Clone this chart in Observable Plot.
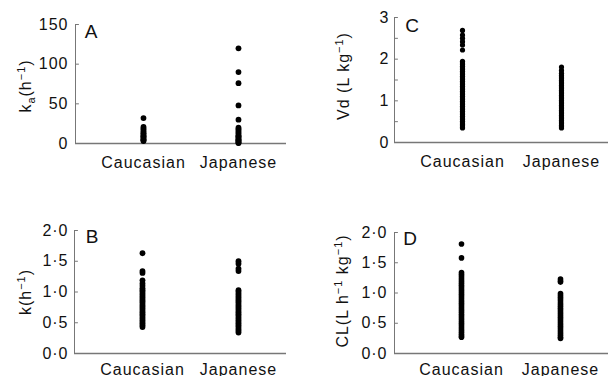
<!DOCTYPE html>
<html><head><meta charset="utf-8">
<script src="https://cdn.jsdelivr.net/npm/d3@7"></script>
<script src="https://cdn.jsdelivr.net/npm/@observablehq/plot@0.6"></script>
<style>
body{margin:0;background:#fff;}
#wrap{position:relative;width:608px;height:376px;overflow:hidden;background:#fff;}
.panel{position:absolute;}
</style></head><body><div id="wrap"></div>
<script>
const groups = ["Caucasian", "Japanese"];

// Panel A: ka (h^-1)
const kaCaucasian = [32, 21, 19, 17, 15, 13, 12, 10, 9, 8, 6, 5, 4, 3];
const kaJapanese = [120, 90, 76, 48, 30, 20, 18, 16, 14, 12, 10, 9, 8, 6, 5, 4, 3, 2, 1, 0.5];
const kaTicks = [0, 50, 100, 150];
const kaTickLabels = [0, 50, 100, 150];

// Panel C: Vd (L kg^-1)
const vdCaucasian = [2.69, 2.58, 2.50, 2.42, 2.34, 2.22, 1.95, 1.91, 1.87, 1.83, 1.79, 1.75, 1.71, 1.67, 1.63, 1.59, 1.55, 1.51, 1.47, 1.43, 1.39, 1.35, 1.31, 1.27, 1.23, 1.19, 1.15, 1.11, 1.07, 1.03, 0.99, 0.95, 0.91, 0.87, 0.83, 0.79, 0.75, 0.71, 0.67, 0.63, 0.59, 0.55, 0.51, 0.47, 0.43, 0.40, 0.37, 0.35];
const vdJapanese = [1.81, 1.73, 1.66, 1.61, 1.57, 1.53, 1.49, 1.45, 1.41, 1.37, 1.33, 1.29, 1.25, 1.21, 1.17, 1.13, 1.09, 1.05, 1.01, 0.97, 0.93, 0.89, 0.85, 0.81, 0.77, 0.73, 0.69, 0.65, 0.61, 0.57, 0.53, 0.49, 0.45, 0.41, 0.38, 0.35];
const vdTicks = [0, 0.5, 1, 1.5, 2, 2.5, 3];
const vdTickLabels = [0, 1, 2, 3];

// Panel B: k (h^-1)
const kCaucasian = [1.63, 1.34, 1.31, 1.19, 1.14, 1.10, 1.06, 1.03, 1.00, 0.97, 0.94, 0.91, 0.88, 0.85, 0.82, 0.79, 0.76, 0.73, 0.70, 0.67, 0.64, 0.61, 0.58, 0.55, 0.52, 0.49, 0.46, 0.43];
const kJapanese = [1.50, 1.46, 1.38, 1.34, 1.03, 1.00, 0.97, 0.94, 0.91, 0.88, 0.85, 0.82, 0.79, 0.76, 0.73, 0.70, 0.67, 0.64, 0.61, 0.58, 0.55, 0.52, 0.49, 0.46, 0.43, 0.40, 0.37, 0.34];
const kTicks = [0, 0.5, 1, 1.5, 2];
const kTickLabels = [0, 0.5, 1, 1.5, 2];

// Panel D: CL (L h^-1 kg^-1)
const clCaucasian = [1.81, 1.58, 1.34, 1.31, 1.28, 1.25, 1.22, 1.19, 1.16, 1.13, 1.10, 1.07, 1.04, 1.01, 0.98, 0.95, 0.92, 0.89, 0.86, 0.83, 0.80, 0.77, 0.74, 0.71, 0.68, 0.65, 0.62, 0.59, 0.56, 0.53, 0.50, 0.47, 0.44, 0.41, 0.38, 0.35, 0.32, 0.29, 0.27];
const clJapanese = [1.23, 1.20, 1.18, 0.99, 0.96, 0.93, 0.90, 0.87, 0.84, 0.81, 0.78, 0.75, 0.72, 0.69, 0.66, 0.63, 0.60, 0.57, 0.54, 0.51, 0.48, 0.45, 0.42, 0.39, 0.36, 0.33, 0.30, 0.27, 0.25];
const clTicks = [0, 0.5, 1, 1.5, 2];
const clTickLabels = [0, 0.5, 1, 1.5, 2];

const FONT = '"Liberation Sans", Arial, Helvetica, sans-serif';
const dotFmt = d => d.toFixed(1).replace(".", "·");
const tickShape = {draw(context, l) { context.moveTo(0, 0); context.lineTo(0, -l); }};

function panel(o) {
  const table = [
    ...o.cau.map(v => ({group: "Caucasian", v})),
    ...o.jap.map(v => ({group: "Japanese", v}))
  ];
  const svg = Plot.plot({
    width: o.width, height: o.height,
    marginLeft: o.ml, marginRight: o.mr, marginTop: o.mt, marginBottom: o.mb,
    style: {fontFamily: FONT, fontSize: "16px", color: "#111", background: "white", overflow: "visible"},
    x: {type: "point", domain: groups, range: o.xRange, padding: 0},
    y: {domain: o.domain},
    marks: [
      Plot.ruleY([0], {stroke: "#777", strokeWidth: 1.6}),
      Plot.frame({anchor: "left", stroke: "#777"}),
      Plot.vector(o.ticks, {y: d => d, frameAnchor: "left", rotate: 90, anchor: "start", length: 3, shape: tickShape, stroke: "#777", strokeWidth: 1}),
      Plot.axisY(o.labels, {tickSize: 0, tickPadding: o.padY, tickFormat: o.fmt, label: null, fill: "#111", fontSize: 16}),
      Plot.axisX({tickSize: 0, tickPadding: o.padX, label: null, fill: "#111", fontSize: 16}),
      Plot.dot(table, {x: "group", y: "v", r: o.r, fill: "black", stroke: null})
    ]
  });
  const s = d3.select(svg);
  s.selectAll("text").style("letter-spacing", "1px");
  s.append("text").attr("x", o.letterX).attr("y", o.letterY)
    .attr("font-size", 19).attr("fill", "#111").text(o.letter);
  const t = s.append("text")
    .attr("transform", `translate(${o.labX},${o.labY}) rotate(-90)`)
    .attr("text-anchor", "middle").attr("fill", "#111").attr("font-size", 16)
    .style("letter-spacing", "1px");
  let shift = 0;
  for (const seg of o.ylabel) {
    const want = seg.sub ? 4 : seg.sup ? -6 : 0;
    const ts = t.append("tspan").attr("dy", want - shift).text(seg.t);
    if (seg.sub || seg.sup) ts.attr("font-size", 11);
    shift = want;
  }
  const div = document.createElement("div");
  div.className = "panel";
  div.style.left = o.left + "px";
  div.style.top = o.top + "px";
  div.appendChild(svg);
  document.getElementById("wrap").appendChild(div);
}

panel({cau: kaCaucasian, jap: kaJapanese, domain: [0, 150], ticks: kaTicks, labels: kaTickLabels, fmt: d => String(d),
  left: 0, top: 0, width: 300, height: 180, ml: 75, mr: 14, mt: 24, mb: 37, xRange: [143, 238],
  padX: 13, padY: 7, r: 2.9, letter: "A", letterX: 91, letterY: 38, labX: 31, labY: 86,
  ylabel: [{t: "k"}, {t: "a", sub: true}, {t: "(h"}, {t: "−1", sup: true}, {t: ")"}]});

panel({cau: vdCaucasian, jap: vdJapanese, domain: [0, 3], ticks: vdTicks, labels: vdTickLabels, fmt: d => String(d),
  left: 300, top: 0, width: 308, height: 180, ml: 94, mr: 0, mt: 17, mb: 38, xRange: [162, 261],
  padX: 13, padY: 5, r: 2.6, letter: "C", letterX: 112, letterY: 32, labX: 49, labY: 76,
  ylabel: [{t: "Vd (L kg"}, {t: "−1", sup: true}, {t: ")"}]});

panel({cau: kCaucasian, jap: kJapanese, domain: [0, 2], ticks: kTicks, labels: kTickLabels, fmt: dotFmt,
  left: 0, top: 180, width: 300, height: 196, ml: 74, mr: 14, mt: 50, mb: 23, xRange: [142, 238],
  padX: 10, padY: 6, r: 2.9, letter: "B", letterX: 92, letterY: 63, labX: 31, labY: 112,
  ylabel: [{t: "k(h"}, {t: "−1", sup: true}, {t: ")"}]});

panel({cau: clCaucasian, jap: clJapanese, domain: [0, 2], ticks: clTicks, labels: clTickLabels, fmt: dotFmt,
  left: 300, top: 180, width: 308, height: 196, ml: 94, mr: 0, mt: 52, mb: 23, xRange: [161, 260],
  padX: 10, padY: 7, r: 2.8, letter: "D", letterX: 110, letterY: 65, labX: 48, labY: 111,
  ylabel: [{t: "CL(L h"}, {t: "−1", sup: true}, {t: " kg"}, {t: "−1", sup: true}, {t: ")"}]});
</script>
</body></html>
